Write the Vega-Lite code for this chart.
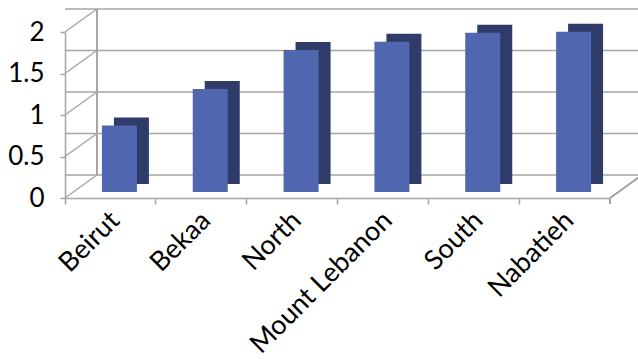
{
  "$schema": "https://vega.github.io/schema/vega-lite/v6.json",
  "autosize": "none",
  "width": 545,
  "height": 166,
  "padding": {"left": 65, "top": 32, "right": 28, "bottom": 161},
  "background": "white",
  "config": {"view": {"stroke": null}, "font": "Lato"},
  "datasets": {
    "bars": [
      {"region": "Beirut", "value": 0.8},
      {"region": "Bekaa", "value": 1.24},
      {"region": "North", "value": 1.71},
      {"region": "Mount Lebanon", "value": 1.81},
      {"region": "South", "value": 1.92},
      {"region": "Nabatieh", "value": 1.93}
    ],
    "grid": [{"v": 0}, {"v": 0.5}, {"v": 1}, {"v": 1.5}, {"v": 2}]
  },
  "layer": [
    {
      "data": {"name": "grid"},
      "mark": {"type": "rule", "color": "#a6a6a6", "strokeWidth": 1.5, "xOffset": 32, "x2Offset": 32, "yOffset": -23},
      "encoding": {
        "y": {"field": "v", "type": "quantitative", "scale": {"domain": [0, 2]}}
      }
    },
    {
      "data": {"name": "grid"},
      "mark": {"type": "rule", "color": "#a6a6a6", "strokeWidth": 1.5, "xOffset": -45.5, "x2Offset": -13.5, "y2Offset": -23},
      "encoding": {
        "x": {"datum": "Beirut", "type": "nominal", "scale": {"domain": ["Beirut", "Bekaa", "North", "Mount Lebanon", "South", "Nabatieh"]}},
        "x2": {"datum": "Beirut"},
        "y": {"field": "v", "type": "quantitative"},
        "y2": {"field": "v"}
      }
    },
    {
      "data": {"name": "grid"},
      "mark": {"type": "rule", "color": "#a6a6a6", "strokeWidth": 1.5, "xOffset": -13.5, "yOffset": -23, "y2Offset": -23},
      "encoding": {
        "x": {"datum": "Beirut", "type": "nominal"},
        "y": {"datum": 0, "type": "quantitative"},
        "y2": {"datum": 2}
      }
    },
    {
      "data": {"name": "grid"},
      "mark": {"type": "rule", "color": "#a6a6a6", "strokeWidth": 1.5, "xOffset": 45.5, "x2Offset": 77.5, "y2Offset": -23},
      "encoding": {
        "x": {"datum": "Nabatieh", "type": "nominal"},
        "x2": {"datum": "Nabatieh"},
        "y": {"datum": 0, "type": "quantitative"},
        "y2": {"datum": 0}
      }
    },
    {
      "data": {"name": "grid"},
      "mark": {"type": "rule", "color": "#a6a6a6", "strokeWidth": 1.5, "xOffset": 45.5, "y2Offset": 6},
      "encoding": {
        "x": {"datum": "Nabatieh", "type": "nominal"},
        "y": {"datum": 0, "type": "quantitative"},
        "y2": {"datum": 0}
      }
    },
    {
      "data": {"name": "bars"},
      "mark": {"type": "bar", "color": "#2f3b68", "size": 35, "xOffset": 21, "yOffset": -14, "y2Offset": -14},
      "encoding": {
        "x": {"field": "region", "type": "nominal", "sort": null},
        "y": {"field": "value", "type": "quantitative"}
      }
    },
    {
      "data": {"name": "bars"},
      "mark": {"type": "bar", "color": "#5066ae", "size": 35, "xOffset": 9, "yOffset": -6, "y2Offset": -6},
      "encoding": {
        "x": {
          "field": "region", "type": "nominal", "sort": null, "title": null,
          "axis": {
            "bandPosition": 0, "labelAngle": -45, "labelFontSize": 27, "labelColor": "#000000", "labelLimit": 400,
            "labelOffset": 5, "labelPadding": 12, "tickSize": 6, "tickColor": "#a6a6a6", "tickWidth": 1.5,
            "domainColor": "#a6a6a6", "domainWidth": 1.5, "grid": false
          }
        },
        "y": {
          "field": "value", "type": "quantitative", "title": null,
          "scale": {"domain": [0, 2]},
          "axis": {
            "values": [0, 0.5, 1, 1.5, 2], "format": "~g", "grid": false, "labelFontSize": 26, "labelColor": "#000000",
            "tickSize": 5, "tickColor": "#a6a6a6", "tickWidth": 1.5, "labelPadding": 16,
            "domainColor": "#a6a6a6", "domainWidth": 1.5
          }
        }
      }
    }
  ]
}
